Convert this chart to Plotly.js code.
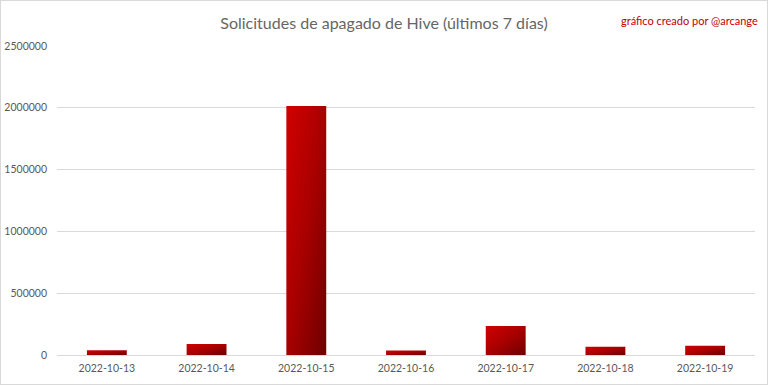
<!DOCTYPE html>
<html>
<head>
<meta charset="utf-8">
<script src="https://cdn.plot.ly/plotly-3.0.1.min.js"></script>
<style>
  html, body { margin: 0; padding: 0; background: #fff; }
  #chart { width: 766px; height: 383px; border: 1px solid #d9d9d9; }
</style>
</head>
<body>
<div id="chart"></div>
<script>
const dates = ["2022-10-13", "2022-10-14", "2022-10-15", "2022-10-16", "2022-10-17", "2022-10-18", "2022-10-19"];
const requests = [38000, 89000, 2015000, 36000, 235000, 67000, 75000];
const yTicks = [0, 500000, 1000000, 1500000, 2000000, 2500000];

const fontFamily = "Lato, 'Open Sans', 'Noto Sans', sans-serif";

const trace = {
  type: "bar",
  x: dates,
  y: requests,
  width: 0.4,
  marker: { color: "#b00000" },
  hoverinfo: "x+y"
};

const layout = {
  width: 766,
  height: 383,
  margin: { l: 56, r: 12, t: 45, b: 29 },
  paper_bgcolor: "#ffffff",
  plot_bgcolor: "#ffffff",
  showlegend: false,
  font: { family: fontFamily, color: "#595959", size: 10.5 },
  title: {
    text: "Solicitudes de apagado de Hive (últimos 7 días)",
    font: { family: fontFamily, size: 16, color: "#666666", weight: 400 },
    x: 0.5, xanchor: "center",
    y: 0.942, yanchor: "middle"
  },
  xaxis: {
    type: "category",
    showgrid: false,
    showline: false,
    ticks: "",
    tickfont: { size: 10.5, color: "#595959" },
    ticklabelstandoff: 5
  },
  yaxis: {
    range: [0, 2500000],
    tickvals: yTicks,
    tickformat: "d",
    showgrid: true,
    gridcolor: "#d9d9d9",
    gridwidth: 1,
    zeroline: true,
    zerolinecolor: "#d9d9d9",
    zerolinewidth: 1,
    showline: false,
    ticks: "",
    ticklabelstandoff: 9,
    tickfont: { size: 10.5, color: "#595959" }
  },
  annotations: [{
    text: "gráfico creado por @arcange",
    xref: "paper", yref: "paper",
    x: 1.007, y: 1.082,
    xanchor: "right", yanchor: "middle",
    showarrow: false,
    font: { family: fontFamily, size: 11, color: "#c00000" }
  }]
};

Plotly.newPlot("chart", [trace], layout, { displayModeBar: false, staticPlot: true }).then(function () {
  const svgNS = "http://www.w3.org/2000/svg";
  const svg = document.querySelector("#chart .main-svg");
  let defs = svg.querySelector("defs");
  if (!defs) { defs = document.createElementNS(svgNS, "defs"); svg.insertBefore(defs, svg.firstChild); }
  const grad = document.createElementNS(svgNS, "linearGradient");
  grad.setAttribute("id", "barGrad");
  grad.setAttribute("x1", "0"); grad.setAttribute("y1", "0");
  grad.setAttribute("x2", "1"); grad.setAttribute("y2", "1");
  [["0%", "#d20000"], ["50%", "#a80000"], ["100%", "#6e0000"]].forEach(function (s) {
    const st = document.createElementNS(svgNS, "stop");
    st.setAttribute("offset", s[0]);
    st.setAttribute("stop-color", s[1]);
    grad.appendChild(st);
  });
  defs.appendChild(grad);
  document.querySelectorAll("#chart .bars .point path").forEach(function (p) {
    p.style.fill = "url(#barGrad)";
  });
});
</script>
</body>
</html>
